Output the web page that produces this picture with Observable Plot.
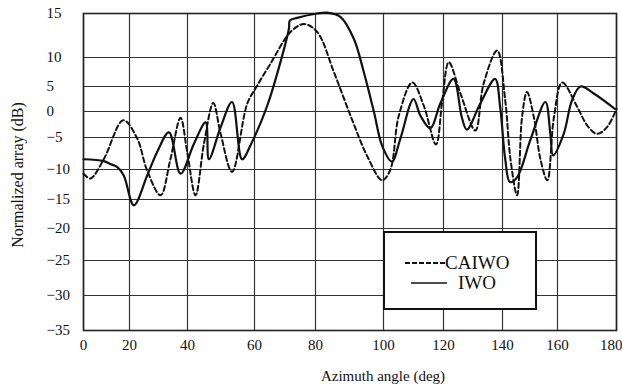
<!DOCTYPE html>
<html>
<head>
<meta charset="utf-8">
<script src="https://cdn.jsdelivr.net/npm/d3@7"></script>
<script src="https://cdn.jsdelivr.net/npm/@observablehq/plot@0.6"></script>
<style>
  html, body { margin: 0; padding: 0; background: #fff; }
  #wrap { position: relative; width: 622px; height: 389px; overflow: hidden; }
  #legend { position: absolute; left: 383px; top: 231px; width: 150px; height: 75px;
            border: 2px solid #111; background: #fff; font-family: "Liberation Serif"; font-size: 19px; color: #111; }
  .row { position: absolute; display: flex; align-items: center; }
  #ytitle { position: absolute; left: 18px; top: 175px; transform: translate(-50%, -50%) rotate(-90deg);
            white-space: nowrap; font-family: "Liberation Serif"; font-size: 16px; color: #111; }
</style>
</head>
<body>
<div id="wrap"></div>
<script>
// Tick values of the original (non-uniformly spaced) axes
const xTicks = [0, 20, 40, 60, 80, 100, 120, 140, 160, 180];
const yTicks = [-35, -30, -25, -20, -15, -10, -5, 0, 5, 10, 15];
const seriesNames = ["CAIWO", "IWO"];
const xTitle = "Azimuth angle (deg)";
const yTitle = "Normalized array (dB)";

// CAIWO (dashed) : azimuth (deg), normalized array (dB)
const caiwoX = [0, 3, 8.8, 17.3, 22.6, 26.1, 30.7, 34.1, 37.6, 39.9, 42.4, 44.9, 47.7, 49.9, 53.3, 57.8, 60.7, 65.2, 71.8, 76.2, 80.5, 85.4, 90.3, 95.2, 99.6, 102.3, 105.1, 109.6, 113.4, 117.5, 119.6, 121.8, 125.8, 130.8, 133.6, 138.2, 141, 142.9, 145.3, 147.1, 148.9, 151.4, 153.8, 156.3, 158.7, 161.6, 166.7, 170.1, 173.4, 176.8, 180];
const caiwoY = [-10.7, -11.5, -8.4, -1.7, -5.1, -10.2, -14.3, -8.4, -1.2, -7.3, -14.3, -6, 1.7, -4.3, -10.4, 1.5, 5, 8.9, 12.9, 13.8, 12.9, 7.5, -0.8, -7.9, -11.8, -10, -0.8, 5.7, 1.2, -6.1, 2.2, 9.2, 3.5, -3.65, 5.5, 10.8, 2.2, -8.4, -14.3, -1.1, 3.9, -1.1, -8.4, -11.8, -1.1, 5.7, 0.9, -2.7, -4.3, -3, 0.5];

// IWO (solid)
const iwoX = [0, 8.8, 12, 14.6, 17.5, 21.5, 26.1, 29.5, 33.6, 37.6, 41.9, 45.4, 46.4, 49.9, 53.3, 56.3, 59, 64.2, 68.5, 71.3, 71.6, 74, 80.5, 83.4, 87.4, 91.3, 94.2, 97.2, 99.6, 102.8, 105.6, 110, 112.3, 115.6, 119, 123.4, 126.2, 127.9, 132.4, 137.5, 139.2, 141, 142.7, 145.3, 150.2, 155.6, 157.4, 158.4, 162.1, 164.9, 167.8, 172.3, 179.5];
const iwoY = [-8.4, -8.7, -9.2, -9.6, -11, -16, -11, -7.3, -4, -10.7, -6, -2.1, -8.4, -3, 1.9, -8.4, -6, 1.2, 9.2, 13.3, 14.2, 14.5, 15, 15.1, 14.6, 12.1, 7.5, -0.1, -6.3, -8.75, -5.2, 2.5, -0.8, -3.2, 1.7, 6.3, -1.1, -3.5, 1.5, 6.3, 0.9, -8.4, -12.1, -11.3, -5.3, 1.9, -4.3, -7.8, -4.3, 2.2, 5, 3.6, 0.5];

const caiwo = caiwoX.map((x, i) => ({x, y: caiwoY[i]}));
const iwo = iwoX.map((x, i) => ({x, y: iwoY[i]}));

const chart = Plot.plot({
  width: 622,
  height: 389,
  marginLeft: 83,
  marginRight: 6,
  marginTop: 13,
  marginBottom: 59,
  style: { fontFamily: "Liberation Serif", fontSize: "14px", color: "#111", background: "#fff" },
  x: { type: "linear", domain: xTicks, range: [83, 129, 187, 254, 315, 383, 443, 502, 557, 616] },
  y: { type: "linear", domain: yTicks, range: [330, 295, 260, 228, 199, 169, 137, 111, 86, 57, 13] },
  marks: [
    Plot.gridX(xTicks, { stroke: "#333", strokeOpacity: 1, strokeWidth: 1.2 }),
    Plot.gridY(yTicks, { stroke: "#333", strokeOpacity: 1, strokeWidth: 1.2 }),
    Plot.frame({ stroke: "#222", strokeWidth: 1.6 }),
    Plot.axisX(xTicks.slice(0, -1), { tickSize: 0, tickPadding: 9, fontSize: 15, label: null }),
    Plot.axisX(xTicks.slice(-1), { tickSize: 0, tickPadding: 9, fontSize: 15, label: null, textAnchor: "end", dx: 6 }),
    Plot.axisY(yTicks, { tickSize: 0, tickPadding: 37, textAnchor: "start", fontSize: 15, label: null }),
    Plot.text([xTitle], { frameAnchor: "bottom", dx: 33, dy: 50, fontSize: 15, fill: "#111" }),
    Plot.line(caiwo, { x: "x", y: "y", stroke: "#111", strokeWidth: 2, strokeDasharray: "5,3", curve: "catmull-rom" }),
    Plot.line(iwo, { x: "x", y: "y", stroke: "#111", strokeWidth: 2.2, curve: "catmull-rom" })
  ]
});

const wrap = document.getElementById("wrap");
wrap.appendChild(chart);

const yt = document.createElement("div");
yt.id = "ytitle";
yt.textContent = yTitle;
wrap.appendChild(yt);

const legend = document.createElement("div");
legend.id = "legend";
legend.innerHTML = `
  <div class="row" style="left:20px; top:19px; height:22px;">
    <svg width="40" height="4"><line x1="0" y1="2" x2="40" y2="2" stroke="#111" stroke-width="2" stroke-dasharray="5,2"/></svg>
    <span>${seriesNames[0]}</span>
  </div>
  <div class="row" style="left:26px; top:39px; height:22px;">
    <svg width="38" height="4"><line x1="0" y1="2" x2="36" y2="2" stroke="#111" stroke-width="1.3"/></svg>
    <span style="margin-left:9px">${seriesNames[1]}</span>
  </div>`;
wrap.appendChild(legend);
</script>
</body>
</html>
